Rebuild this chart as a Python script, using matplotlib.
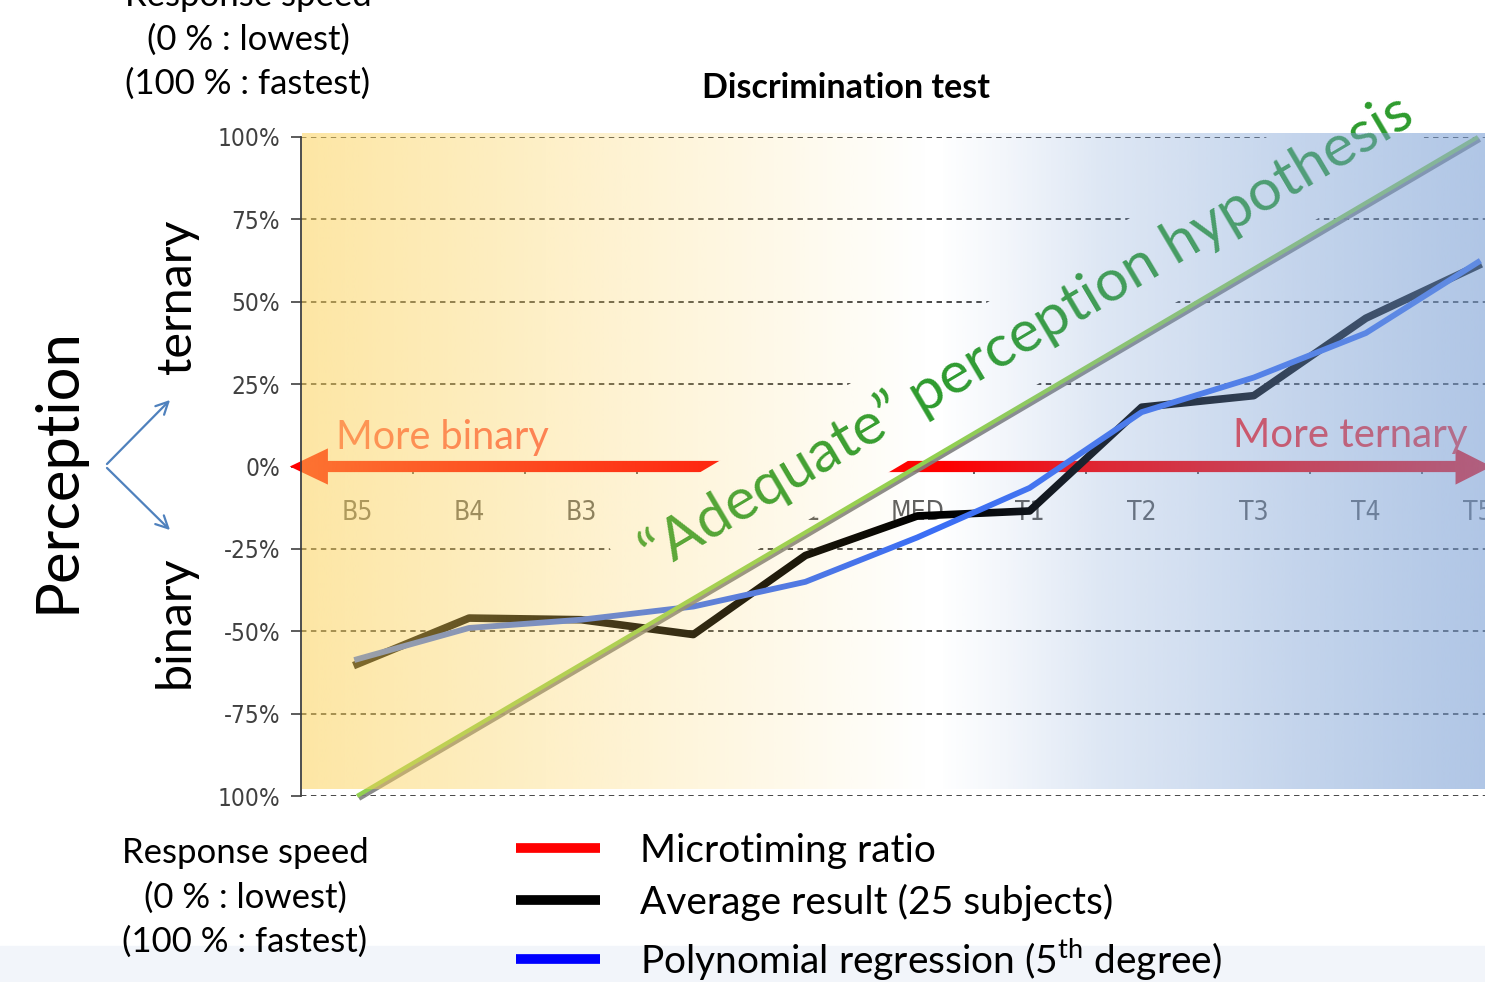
import numpy as np
import matplotlib
matplotlib.use('Agg')
import matplotlib.pyplot as plt
import matplotlib.patheffects as pe
from matplotlib.patches import FancyArrow, FancyArrowPatch, Polygon, Rectangle
from matplotlib.lines import Line2D

plt.rcParams['font.family'] = ['Lato', 'DejaVu Sans']
plt.rcParams['mathtext.fontset'] = 'custom'
plt.rcParams['mathtext.rm'] = 'Lato'

# data (percent)
categories = ['B5', 'B4', 'B3', 'B2', 'B1', 'MED', 'T1', 'T2', 'T3', 'T4', 'T5']
average_result = [-60, -46, -46.5, -51, -27, -15, -13.5, 18, 21.5, 45, 61]
poly_regression = [-58.5, -49, -46.5, -42.5, -35, -21.5, -6.5, 16.5, 27, 40.5, 62]
hypothesis_cats = ['B5', 'T5']
hypothesis_vals = [-100, 100]
y_ticks = [100, 75, 50, 25, 0, -25, -50, -75, -100]
y_tick_labels = ['100%', '75%', '50%', '25%', '0%', '-25%', '-50%', '-75%', '100%']
speed_lines = ['Response speed', '(0 % : lowest)', '(100 % : fastest)']
legend_labels = ['Microtiming ratio', 'Average result (25 subjects)',
                 r'Polynomial regression (5$^{\mathrm{th}}$ degree)']

W, H = 1485, 982


def pix(x, y):
    # pixel position (from top-left) -> figure fraction
    return (x / W, 1 - y / H)


fig = plt.figure(figsize=(W / 100, H / 100), dpi=100)
fig.add_artist(Rectangle((0, 0), 1, 36 / H, transform=fig.transFigure,
                         color='#F2F5FA', zorder=-5))

ax = fig.add_axes([301 / W, 1 - 796 / H, 1233 / W, 659 / H])
x = np.arange(len(categories))

# background gradient laid over the plot (orange -> white -> blue)
xs = np.linspace(-0.49, 10.5, 600)
px = 357 + xs * 112.1
a_orange = 0.55 * np.clip(1 - (px - 303) / 627, 0, 1)
a_blue = np.interp(px, [940, 1010, 1100, 1300, 1485, 1534], [0, .1, .25, .45, .6, .62])
rgba = np.zeros((1, len(xs), 4))
orange = np.array([252, 210, 90]) / 255
blue = np.array([123, 160, 213]) / 255
rgba[0, :, :3] = np.where((a_orange > 0)[:, None], orange, blue)
rgba[0, :, 3] = a_orange + a_blue
ax.imshow(rgba, extent=[-0.49, 10.5, -97.8, 101.2], aspect='auto',
          interpolation='bilinear', zorder=5, clip_on=False)

# red arrows on the 0% line
ax.add_patch(FancyArrow(3.95, 0, -4.55, 0, width=3.4, head_width=11, head_length=0.34,
                        length_includes_head=True, color='red', lw=0, zorder=0.8, clip_on=False))
ax.add_patch(FancyArrow(4.04, 0, 6.08, 0, width=3.4, head_width=11, head_length=0.32,
                        length_includes_head=True, color='red', lw=0, zorder=0.8, clip_on=False))

# white text box behind the hypothesis label (hides gridlines, arrows, labels)
ang = np.deg2rad(30.6)
u = np.array([np.cos(ang), np.sin(ang)])
n = np.array([-np.sin(ang), np.cos(ang)])
c = np.array([805, H - 466])
corners = [c + t * u + s * 48 * n for t, s in [(-210, -1), (700, -1), (700, 1), (-210, 1)]]
corners = [(p[0] / W, p[1] / H) for p in corners]
ax.add_patch(Polygon(corners, closed=True, transform=fig.transFigure,
                     facecolor='white', edgecolor='none', zorder=1))

# series
ax.plot([categories.index(c_) for c_ in hypothesis_cats], hypothesis_vals, color='#92D050',
        lw=3, zorder=2.5, clip_on=False, solid_capstyle='butt',
        path_effects=[pe.SimpleLineShadow(offset=(1.5, -2), shadow_color='#7f7f7f', alpha=0.9),
                      pe.Normal()])
ax.plot(x, average_result, color='black', lw=5.5, zorder=2.2, solid_joinstyle='round')
ax.plot(x, poly_regression, color='#3B6EF5', lw=4.2, zorder=2.3, solid_joinstyle='round')

# texts inside the plot (under the gradient)
ax.text(*pix(442, 437), 'More binary', transform=fig.transFigure, ha='center', va='center',
        fontsize=28.5, color='#FF5A50', zorder=4)
ax.text(*pix(1350, 435), 'More ternary', transform=fig.transFigure, ha='center', va='center',
        fontsize=29, color='#FF2A2A', zorder=4)
ax.text(*pix(1027, 333), '\u201cAdequate\u201d perception hypothesis', transform=fig.transFigure,
        ha='center', va='center', rotation=30.6, rotation_mode='anchor',
        fontsize=42.5, color='#2D9B2D', zorder=4)

# axes styling
ax.set_xlim(-0.5, 10.5)
ax.set_ylim(-100, 100)
ax.set_axisbelow(True)
ax.yaxis.grid(True, linestyle=(0, (3, 2.5)), color='#383838', lw=1.3)
ax.set_yticks(y_ticks)
ax.set_yticklabels(y_tick_labels, fontfamily='DejaVu Sans', fontstretch='condensed')
ax.tick_params(axis='y', direction='out', length=7, width=1.2, color='#404040',
               labelsize=17.5, labelcolor='#404040', pad=8)
ax.spines['bottom'].set_position(('data', 0))
ax.spines['bottom'].set_visible(False)
ax.spines['top'].set_visible(False)
ax.spines['right'].set_visible(False)
ax.spines['left'].set_color('#404040')
ax.spines['left'].set_linewidth(1.3)
ax.set_xticks(x)
ax.set_xticklabels(categories, fontfamily='DejaVu Sans', fontstretch='condensed')
ax.set_xticks(np.arange(0.5, len(categories) - 1, 1), minor=True)
ax.tick_params(axis='x', which='major', length=0, pad=24, labelsize=19, labelcolor='#606060')
ax.tick_params(axis='x', which='minor', length=5, width=1.2, color='#404040', direction='out')
ax.set_facecolor('white')

# outside texts
fig.text(*pix(846, 88), 'Discrimination test', ha='center', va='center',
         fontsize=24.5, fontweight='bold')
for i, s in enumerate(speed_lines):
    fig.text(*pix(248, -4 + 44 * i), s, ha='center', va='center', fontsize=25)
    fig.text(*pix(245, 853 + 44.5 * i), s, ha='center', va='center', fontsize=25)
fig.text(*pix(58, 470), 'Perception', rotation=90, ha='center', va='center', fontsize=43)
fig.text(*pix(177, 297), 'ternary', rotation=90, ha='center', va='center', fontsize=35)
fig.text(*pix(175, 622), 'binary', rotation=90, ha='center', va='center', fontsize=35)
for yy in (398, 532):
    fig.add_artist(FancyArrowPatch(pix(105, 466), pix(172, yy), transform=fig.transFigure,
                                   arrowstyle='->', mutation_scale=22, color='#4F81BD', lw=1.6))

# legend
handles = [Line2D([], [], color=col, lw=7, solid_capstyle='butt')
           for col in ('red', 'black', '#0000FF')]
fig.legend(handles, legend_labels, loc='upper left', bbox_to_anchor=pix(516, 833),
           frameon=False, fontsize=28, handlelength=2.16, handletextpad=1.03,
           labelspacing=0.38, borderaxespad=0, borderpad=0)

fig.savefig('out.png', dpi=100)
